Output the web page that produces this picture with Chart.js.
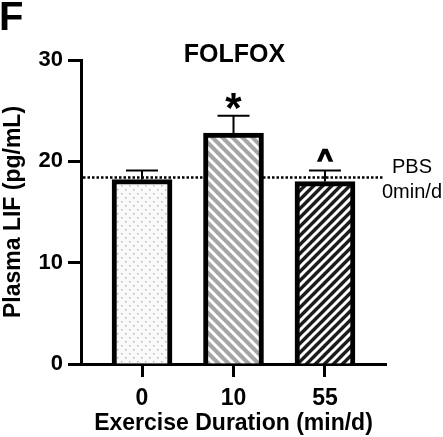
<!DOCTYPE html>
<html>
<head>
<meta charset="utf-8">
<script src="https://cdn.jsdelivr.net/npm/chart.js@4"></script>
<style>
  html, body { margin: 0; padding: 0; background: #fff; }
  #wrap { width: 443px; height: 437px; position: relative; }
</style>
</head>
<body>
<div id="wrap"><canvas id="myChart"></canvas></div>
<script>
// data
const categories = ['0', '10', '55'];
const means = [18.2, 22.8, 18.0];
const sem = [0.9, 1.7, 1.1];
const marks = ['', '*', '^'];
const pbsLevel = 18.4;
const yMax = 30;
const yStep = 10;

const FONT = '"Liberation Sans", Arial, sans-serif';

function makePattern(kind) {
  const c = document.createElement('canvas');
  const x = c.getContext('2d');
  if (kind === 'dots') {
    c.width = 8; c.height = 8;
    x.fillStyle = '#fafafa'; x.fillRect(0, 0, 8, 8);
    x.fillStyle = '#b8b8b8';
    x.fillRect(1, 1, 1.5, 1.5);
    x.fillRect(5, 5, 1.5, 1.5);
  } else {
    const s = kind === 'grey' ? 10 : 9;
    c.width = s; c.height = s;
    x.fillStyle = kind === 'grey' ? '#a6a6a6' : '#1c1c1c';
    x.fillRect(0, 0, s, s);
    x.strokeStyle = '#fff';
    x.lineWidth = 3;
    x.beginPath();
    if (kind === 'grey') {
      // "\" stripes
      x.moveTo(-s, 0); x.lineTo(s, 2 * s);
      x.moveTo(0, 0); x.lineTo(s, s);
      x.moveTo(0, -s); x.lineTo(2 * s, s);
    } else {
      // "/" stripes
      x.moveTo(0, s); x.lineTo(s, 0);
      x.moveTo(-s, s); x.lineTo(s, -s);
      x.moveTo(0, 2 * s); x.lineTo(2 * s, 0);
    }
    x.stroke();
  }
  return document.createElement('canvas').getContext('2d').createPattern(c, 'repeat');
}

const fills = [makePattern('dots'), makePattern('grey'), makePattern('black')];

const extras = {
  id: 'extras',
  beforeDatasetsDraw(chart) {
    const { ctx, chartArea, scales } = chart;
    const y = scales.y.getPixelForValue(pbsLevel);
    ctx.save();
    ctx.strokeStyle = '#000';
    ctx.lineWidth = 2.5;
    ctx.setLineDash([2.5, 2]);
    ctx.beginPath();
    ctx.moveTo(chartArea.left + 2, y);
    ctx.lineTo(chartArea.right - 3, y);
    ctx.stroke();
    ctx.restore();
  },
  afterDatasetsDraw(chart) {
    const { ctx, scales } = chart;
    ctx.save();
    ctx.strokeStyle = '#000';
    ctx.lineWidth = 2;
    means.forEach((m, i) => {
      const px = scales.x.getPixelForValue(i);
      const top = scales.y.getPixelForValue(m + sem[i]);
      const base = scales.y.getPixelForValue(m);
      ctx.beginPath();
      ctx.moveTo(px, base);
      ctx.lineTo(px, top);
      ctx.moveTo(px - 16, top);
      ctx.lineTo(px + 16, top);
      ctx.stroke();
      if (marks[i]) {
        ctx.fillStyle = '#000';
        ctx.font = (marks[i] === '*' ? 'bold 42px ' : 'bold 26px ') + FONT;
        ctx.textAlign = 'center';
        ctx.textBaseline = 'alphabetic';
        const mt = ctx.measureText(marks[i]);
        const cy = top - 15;
        const by = cy + (mt.actualBoundingBoxAscent - mt.actualBoundingBoxDescent) / 2;
        ctx.fillText(marks[i], px, by);
        if (marks[i] === '^') {
          ctx.lineWidth = 1.6;
          ctx.strokeText(marks[i], px, by);
          ctx.lineWidth = 2;
        }
      }
    });
    ctx.restore();
  },
  afterDraw(chart) {
    const { ctx, chartArea, scales } = chart;
    ctx.save();
    ctx.fillStyle = '#000';
    ctx.textBaseline = 'alphabetic';
    ctx.textAlign = 'left';
    ctx.font = 'bold 40px ' + FONT;
    ctx.fillText('F', -1, 30);
    ctx.textAlign = 'center';
    ctx.font = 'bold 25px ' + FONT;
    ctx.fillText('FOLFOX', (chartArea.left + chartArea.right) / 2 + 1, 62);
    ctx.font = '20px ' + FONT;
    const y = scales.y.getPixelForValue(pbsLevel);
    ctx.fillText('PBS', 412, y - 5);
    ctx.fillText('0min/d', 412, y + 20);
    ctx.restore();
  }
};

const ctx = document.getElementById('myChart').getContext('2d');
const chart = new Chart(ctx, {
  type: 'bar',
  data: {
    datasets: [{
      data: means.map((v, i) => ({ x: i, y: v })),
      backgroundColor: fills,
      borderColor: '#000',
      borderWidth: 5,
      barThickness: 60
    }]
  },
  options: {
    responsive: true,
    maintainAspectRatio: false,
    animation: false,
    devicePixelRatio: 1,
    layout: { padding: { top: 60, right: 57, left: 0, bottom: 0 } },
    plugins: { legend: { display: false }, tooltip: { enabled: false } },
    scales: {
      x: {
        type: 'linear',
        offset: false,
        min: -0.667,
        max: 2.667,
        afterBuildTicks: (s) => { s.ticks = categories.map((c, i) => ({ value: i })); },
        afterFit: (s) => { s.height = 73; },
        ticks: {
          callback: (v) => categories[v],
          color: '#000',
          padding: 8,
          maxRotation: 0,
          font: { family: FONT, size: 23, weight: 'bold' }
        },
        grid: { offset: false, drawOnChartArea: false, tickLength: 13, tickWidth: 3, tickColor: '#000' },
        border: { width: 3, color: '#000' },
        title: {
          display: true,
          text: 'Exercise Duration (min/d)',
          color: '#000',
          padding: { top: 0, bottom: 0 },
          font: { family: FONT, size: 23, weight: 'bold' }
        }
      },
      y: {
        min: 0,
        max: yMax,
        afterBuildTicks: (s) => {
          const t = [];
          for (let v = 0; v <= yMax; v += yStep) t.push({ value: v });
          s.ticks = t;
        },
        afterFit: (s) => { s.width = 81; },
        ticks: {
          color: '#000',
          padding: 5,
          font: { family: FONT, size: 22, weight: 'bold' }
        },
        grid: { drawOnChartArea: false, tickLength: 13, tickWidth: 3, tickColor: '#000' },
        border: { width: 3, color: '#000' },
        title: {
          display: true,
          text: 'Plasma LIF (pg/mL)',
          color: '#000',
          padding: { top: 0, bottom: 0 },
          font: { family: FONT, size: 23, weight: 'bold' }
        }
      }
    }
  },
  plugins: [extras]
});
</script>
</body>
</html>
